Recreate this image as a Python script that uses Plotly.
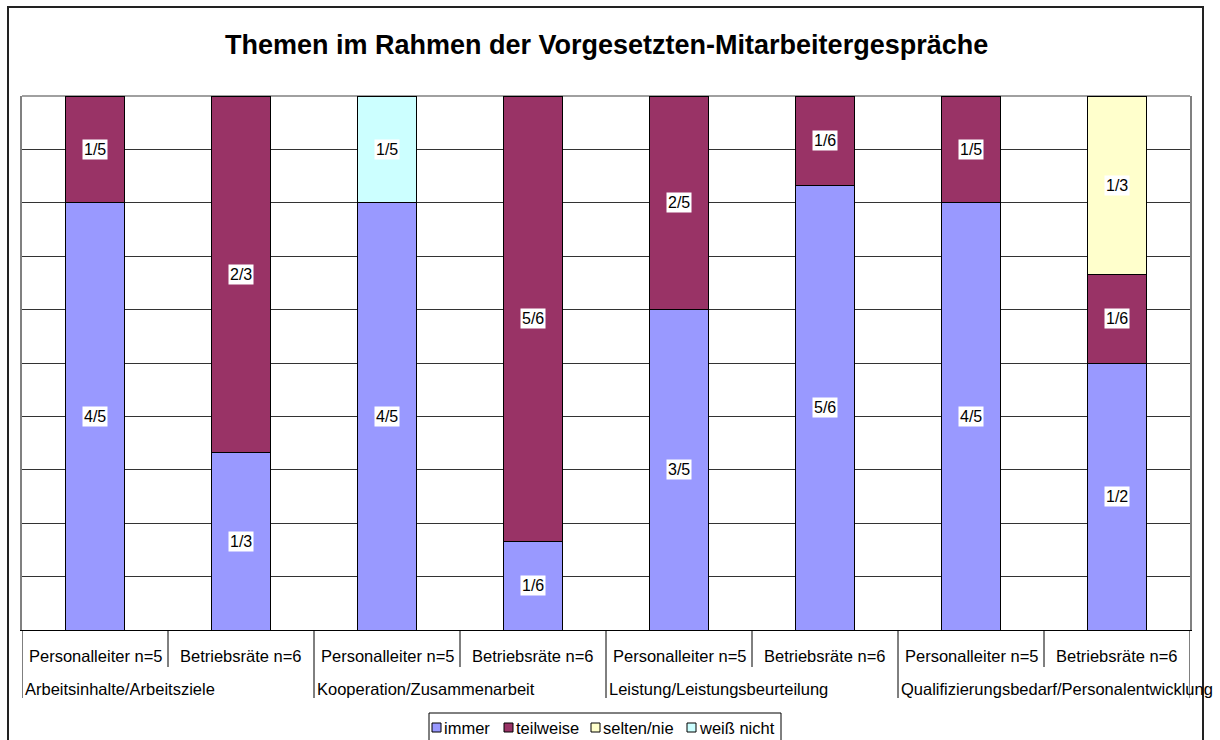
import plotly.graph_objects as go
from fractions import Fraction

# ---------------- data ----------------
groups = ["Arbeitsinhalte/Arbeitsziele", "Kooperation/Zusammenarbeit",
          "Leistung/Leistungsbeurteilung", "Qualifizierungsbedarf/Personalentwicklung"]
subgroups = ["Personalleiter n=5", "Betriebsräte n=6"]

series_names = ["immer", "teilweise", "selten/nie", "weiß nicht"]
immer      = ["4/5", "1/3", "4/5", "1/6", "3/5", "5/6", "4/5", "1/2"]
teilweise  = ["1/5", "2/3", "0",   "5/6", "2/5", "1/6", "1/5", "1/6"]
selten_nie = ["0",   "0",   "0",   "0",   "0",   "0",   "0",   "1/3"]
weiss_nicht= ["0",   "0",   "1/5", "0",   "0",   "0",   "0",   "0"]
series_values = [immer, teilweise, selten_nie, weiss_nicht]
colors = ["#9999FF", "#993366", "#FFFFCC", "#CCFFFF"]
grid_values = [0.1, 0.2, 0.3, 0.4, 0.5, 0.6, 0.7, 0.8, 0.9]

title = "Themen im Rahmen der Vorgesetzten-Mitarbeitergespräche"

# ---------------- layout geometry (pixels) ----------------
W, H = 1220, 740
L, R, T, B = 22, 1190, 96, 630
FONT = "Liberation Sans, Arial, sans-serif"


def pxx(x):
    return (x - L) / (R - L)


def pxy(y):
    return (B - y) / (B - T)


n_bars = len(groups) * len(subgroups)
xs = list(range(n_bars))
cat_labels = [subgroups[i % len(subgroups)] for i in xs]

fig = go.Figure()
annotations = []
shapes = []

cum = [0.0] * n_bars
for name, vals, col in zip(series_names, series_values, colors):
    fv = [float(Fraction(v)) for v in vals]
    fig.add_trace(go.Bar(
        x=xs, y=[v if v > 0 else None for v in fv], name=name,
        marker=dict(color=col, line=dict(color="black", width=1)),
        width=0.4, showlegend=False, hoverinfo="skip"))
    for i, (v, s) in enumerate(zip(fv, vals)):
        if v > 0:
            annotations.append(dict(
                x=i, y=cum[i] + v / 2, xref="x", yref="y", text=s,
                showarrow=False, bgcolor="white", borderpad=1,
                font=dict(family=FONT, size=16, color="black")))
        cum[i] += v

# category axis labels
for i, lab in enumerate(cat_labels):
    annotations.append(dict(
        x=i, y=pxy(656), xref="x", yref="paper", text=lab, showarrow=False,
        font=dict(family=FONT, size=16.5, color="black"), yanchor="middle"))
for g, gname in enumerate(groups):
    annotations.append(dict(
        x=g * len(subgroups) - 0.5, y=pxy(689), xref="x", yref="paper",
        text=gname, showarrow=False, xanchor="left", xshift=1,
        font=dict(family=FONT, size=16.5, color="black"), yanchor="middle"))

# separators below axis
for k in range(n_bars + 1):
    xb = k - 0.5
    is_group = (k % len(subgroups) == 0)
    shapes.append(dict(type="line", xref="x", yref="paper", x0=xb, x1=xb,
                       y0=0, y1=pxy(698 if is_group else 667),
                       line=dict(color="black", width=1)))

# plot area top border (gray)
shapes.append(dict(type="line", xref="paper", yref="paper", x0=0, x1=1, y0=1, y1=1,
                   line=dict(color="#808080", width=1.5), layer="below"))

# outer chart border
shapes.append(dict(type="rect", xref="paper", yref="paper",
                   x0=pxx(8), x1=pxx(1203), y0=pxy(770), y1=pxy(7),
                   line=dict(color="#222222", width=2), fillcolor="rgba(0,0,0,0)"))

# title
annotations.append(dict(x=pxx(606), y=pxy(45), xref="paper", yref="paper", text="<b>%s</b>" % title,
                        showarrow=False, font=dict(family=FONT, size=27, color="black"),
                        yanchor="middle"))

# custom legend
leg_x0, leg_x1, leg_y0, leg_y1 = 429, 781, 713, 750
shapes.append(dict(type="rect", xref="paper", yref="paper",
                   x0=pxx(leg_x0), x1=pxx(leg_x1), y0=pxy(leg_y1), y1=pxy(leg_y0),
                   line=dict(color="black", width=1), fillcolor="white"))
legend_square_px = [432, 504, 591, 687]
for name, col, sx in zip(series_names, colors, legend_square_px):
    shapes.append(dict(type="rect", xref="paper", yref="paper",
                       x0=pxx(sx), x1=pxx(sx + 9), y0=pxy(732), y1=pxy(723),
                       line=dict(color="black", width=1), fillcolor=col))
    annotations.append(dict(x=pxx(sx + 10), y=pxy(727.5), xref="paper", yref="paper",
                            text=name, showarrow=False, xanchor="left", yanchor="middle",
                            font=dict(family=FONT, size=16.5, color="black")))

fig.update_layout(
    width=W, height=H,
    margin=dict(l=L, r=W - R, t=T, b=H - B, pad=0),
    paper_bgcolor="white", plot_bgcolor="white",
    barmode="stack", showlegend=False,
    xaxis=dict(range=[-0.5, n_bars - 0.5], showticklabels=False, ticks="",
               showgrid=False, zeroline=False, showline=True, linecolor="black",
               linewidth=1, fixedrange=True),
    yaxis=dict(range=[0, 1], tickvals=grid_values, showticklabels=False, ticks="",
               showgrid=True, gridcolor="#333333", gridwidth=1, zeroline=False,
               showline=True, linecolor="#808080", linewidth=1.5, mirror=True,
               fixedrange=True),
    annotations=annotations, shapes=shapes,
)

fig.write_html("out.html", config={"displayModeBar": False},
               post_script="document.body.style.margin='0px';")
